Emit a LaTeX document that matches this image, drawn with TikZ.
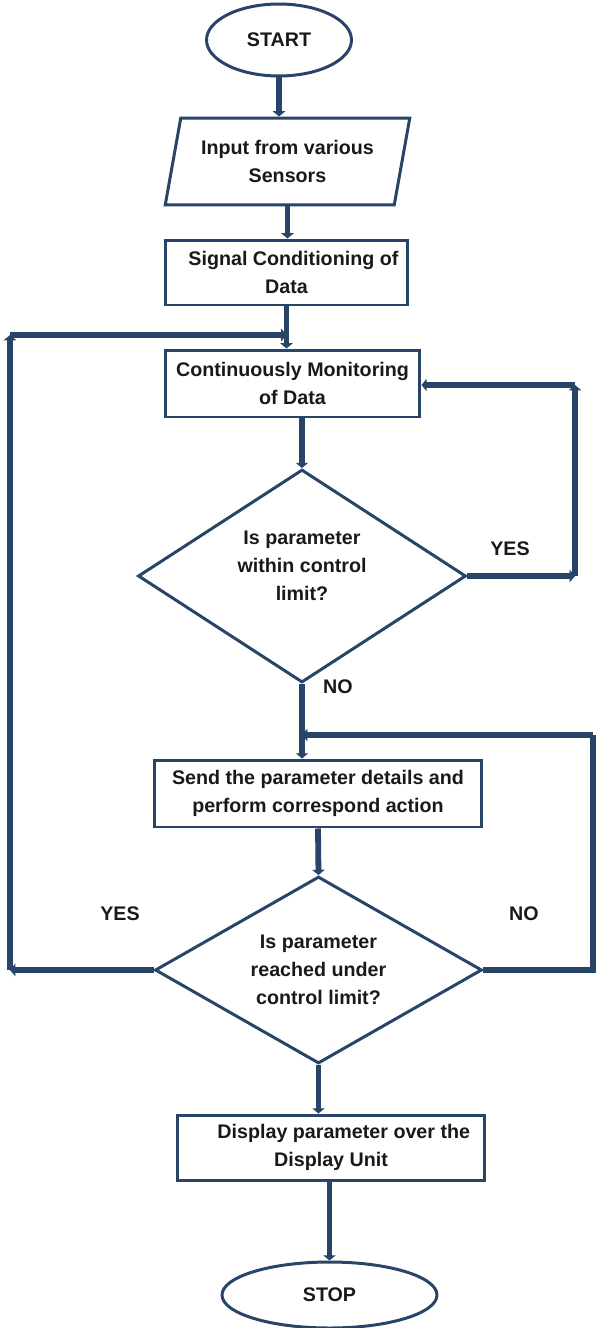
\documentclass[tikz,border=0pt]{standalone}
\usepackage{fontspec}
\setmainfont{Liberation Sans}
\usepackage{tikz}
\usetikzlibrary{shapes.geometric,arrows.meta}
\definecolor{navy}{RGB}{40,68,104}
\tikzstyle{txt} = [font={\fontsize{11.2}{15.8}\selectfont\bfseries}, align=center, text=black!90]
\tikzstyle{term} = [txt, draw=navy, line width=1.7pt, ellipse]
\tikzstyle{io} = [txt, draw=navy, line width=1.7pt, trapezium, trapezium left angle=76, trapezium right angle=104, trapezium stretches=true]
\tikzstyle{proc} = [txt, draw=navy, line width=1.7pt, rectangle]
\tikzstyle{test} = [txt, draw=navy, line width=1.7pt, diamond, aspect=1.5, inner sep=0pt]
\tikzstyle{flow} = [draw=navy, line width=3.3pt, -{Triangle[width=7pt,length=3pt]}]
\tikzstyle{line} = [draw=navy, line width=3.3pt]

\begin{document}
\begin{tikzpicture}[x=0.02cm,y=-0.02cm]
        \useasboundingbox (0,0) rectangle (595,1328);
        \node[term,minimum width=2.9cm,minimum height=1.44cm](start) at (279,40){START};
        \node[io,minimum width=4.9cm,minimum height=1.74cm](input) at (287.5,161.5){Input from various\\Sensors};
        \node[proc,minimum width=4.86cm,minimum height=1.3cm](signal) at (286.5,272.5){\hspace{0.7em}Signal Conditioning of\\Data};
        \node[proc,minimum width=5.1cm,minimum height=1.34cm](monitor) at (292.5,383.5){Continuously Monitoring\\of Data};
        \node[test,minimum width=6.56cm,minimum height=4.26cm](check1) at (302,576){Is parameter\\within control\\limit?\\[-4pt]\mbox{}};
        \node[proc,minimum width=6.56cm,minimum height=1.34cm](send) at (318,793.5){Send the parameter details and\\perform correspond action};
        \node[test,minimum width=6.54cm,minimum height=3.74cm](check2) at (318.5,970){Is parameter\\reached under\\control limit?};
        \node[proc,minimum width=6.16cm,minimum height=1.3cm](display) at (331,1147.5){\hspace{1.3em}Display parameter over the\\Display Unit};
        \node[term,minimum width=4.3cm,minimum height=1.32cm](stop) at (329.5,1295){STOP};
        \node[txt](yes1) at (510,549){YES};
        \node[txt](no1) at (338,687){NO};
        \node[txt](yes2) at (120,914){YES};
        \node[txt](no2) at (524,914){NO};
        \coordinate (c1) at (check1.east -| 575,0);
        \coordinate (c2) at (575,385);
        \coordinate (j1) at (signal.south |- 0,335);
        \coordinate (l1) at (check2.west -| 10,0);
        \coordinate (l2) at (10,335);
        \coordinate (j2) at (check1.south |- 0,735);
        \coordinate (r1) at (check2.east -| 593,0);
        \coordinate (r2) at (593,735);
        \draw[flow](start.south)--(start.south |- input.north);
        \draw[flow](input.south)--(input.south |- signal.north);
        \draw[flow](signal.south)--(signal.south |- monitor.north);
        \draw[flow](monitor.south -| check1.north)--(check1.north);
        \draw[flow](check1.south)--(check1.south |- send.north);
        \draw[flow](send.south)--(check2.north);
        \draw[flow](check2.south)--(check2.south |- display.north);
        \draw[flow](display.south -| stop.north)--(stop.north);
        \draw[flow](check1.east)--(c1);
        \draw[flow](c1)--(c2);
        \draw[flow](c2)--(monitor.east |- c2);
        \draw[flow](check2.west)--(l1);
        \draw[flow](l1)--(l2);
        \draw[flow](l2)--(j1);
        \draw[line](check2.east)--(r1)--(r2);
        \draw[flow](r2)--(j2);
      \end{tikzpicture}
\end{document}
